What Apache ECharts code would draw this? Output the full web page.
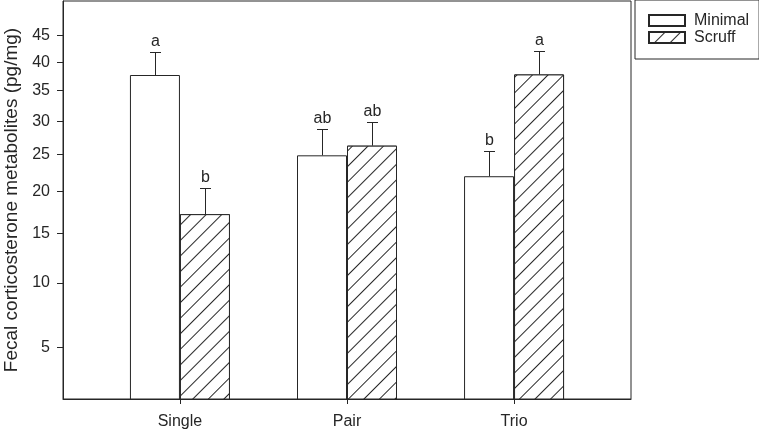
<!DOCTYPE html>
<html>
<head>
<meta charset="utf-8">
<script src="https://cdn.jsdelivr.net/npm/echarts@6/dist/echarts.min.js"></script>
<style>
html,body{margin:0;padding:0;background:#fff;}
#chart{width:759px;height:430px;}
</style>
</head>
<body>
<div id="chart"></div>
<script>
// ---- data ----
const categories = ['Single', 'Pair', 'Trio'];
const seriesNames = ['Minimal', 'Scruff'];
const minimal = [37.7, 24.9, 22.0];
const scruff = [17.2, 26.3, 37.8];
const minimalErrTop = [41.9, 28.8, 25.5];
const scruffErrTop = [20.5, 29.9, 42.0];
const minimalLetters = ['a', 'ab', 'b'];
const scruffLetters = ['b', 'ab', 'a'];
const yTicks = [5, 10, 15, 20, 25, 30, 35, 40, 45];

// ---- chart ----
const FONT = "'Liberation Sans', Arial, sans-serif";
const INK = '#262626';
const BAR_W = 50;
const sq = Math.sqrt;
const xPos = categories.map((c, i) => i + 1);

function barData(vals) { return vals.map((v, i) => [xPos[i], sq(v)]); }
function errData(vals, tops) { return vals.map((v, i) => [xPos[i], sq(v), sq(tops[i])]); }

function errRenderer(offset, letters) {
  return function (params, api) {
    const b = api.coord([api.value(0), api.value(1)]);
    const t = api.coord([api.value(0), api.value(2)]);
    const cx = Math.round(b[0] + offset) + 0.5;
    const ty = Math.round(t[1]) + 0.5;
    return {
      type: 'group',
      children: [
        { type: 'line', shape: { x1: cx, y1: b[1], x2: cx, y2: ty }, style: { stroke: INK, lineWidth: 1 } },
        { type: 'line', shape: { x1: cx - 5.5, y1: ty, x2: cx + 5.5, y2: ty }, style: { stroke: INK, lineWidth: 1 } },
        { type: 'text', x: cx, y: ty - 3, style: { text: letters[params.dataIndex], fill: INK, font: '16px ' + FONT, align: 'center', verticalAlign: 'bottom' } }
      ]
    };
  };
}

const chart = echarts.init(document.getElementById('chart'), null, { renderer: 'canvas' });
chart.setOption({
  animation: false,
  backgroundColor: '#fff',
  textStyle: { fontFamily: FONT, color: INK },
  grid: { left: 63, right: 128, top: 1, bottom: 31, show: true, borderColor: INK, borderWidth: 1, backgroundColor: 'transparent', containLabel: false, outerBoundsMode: 'none' },
  legend: {
    orient: 'vertical', left: 635, top: 0,
    padding: [12, 10, 13, 13],
    itemWidth: 36, itemHeight: 11, itemGap: 0,
    borderColor: INK, borderWidth: 1,
    textStyle: { fontSize: 16, color: INK, lineHeight: 17, padding: [0, 0, 0, 4] },
    data: seriesNames.map(n => ({ name: n, icon: 'rect' }))
  },
  xAxis: {
    type: 'value', min: 0.3, max: 3.7,
    axisLine: { show: true, lineStyle: { color: INK } },
    axisTick: { show: true, length: 5, customValues: xPos, lineStyle: { color: INK } },
    axisLabel: { customValues: xPos, formatter: v => categories[Math.round(v) - 1], fontSize: 16, color: INK, margin: 15 },
    splitLine: { show: false }
  },
  yAxis: {
    type: 'value', min: 1.5, max: 7.2,
    name: 'Fecal corticosterone metabolites (pg/mg)',
    nameLocation: 'middle', nameGap: 42,
    nameTextStyle: { fontSize: 19, color: INK },
    axisLine: { show: true, lineStyle: { color: INK } },
    axisTick: { show: true, length: 6, customValues: yTicks.map(sq), lineStyle: { color: INK } },
    axisLabel: { customValues: yTicks.map(sq), formatter: v => String(Math.round(v * v)), fontSize: 16, color: INK, margin: 13 },
    splitLine: { show: false }
  },
  series: [
    {
      name: seriesNames[0], type: 'bar', barWidth: BAR_W, barGap: '0%',
      data: barData(minimal),
      itemStyle: { color: '#fff', borderColor: INK, borderWidth: 1 }
    },
    {
      name: seriesNames[1], type: 'bar', barWidth: BAR_W, barGap: '0%',
      data: barData(scruff),
      itemStyle: {
        color: '#fff', borderColor: INK, borderWidth: 1,
        decal: { symbol: 'rect', symbolSize: 1, color: INK, backgroundColor: '#fff', dashArrayX: [1, 0], dashArrayY: [1, 10], rotation: -Math.PI / 4 }
      }
    },
    {
      type: 'custom', name: 'errMinimal', clip: false, z: 5,
      data: errData(minimal, minimalErrTop),
      renderItem: errRenderer(-BAR_W / 2, minimalLetters)
    },
    {
      type: 'custom', name: 'errScruff', clip: false, z: 5,
      data: errData(scruff, scruffErrTop),
      renderItem: errRenderer(BAR_W / 2, scruffLetters)
    }
  ]
});
</script>
</body>
</html>
